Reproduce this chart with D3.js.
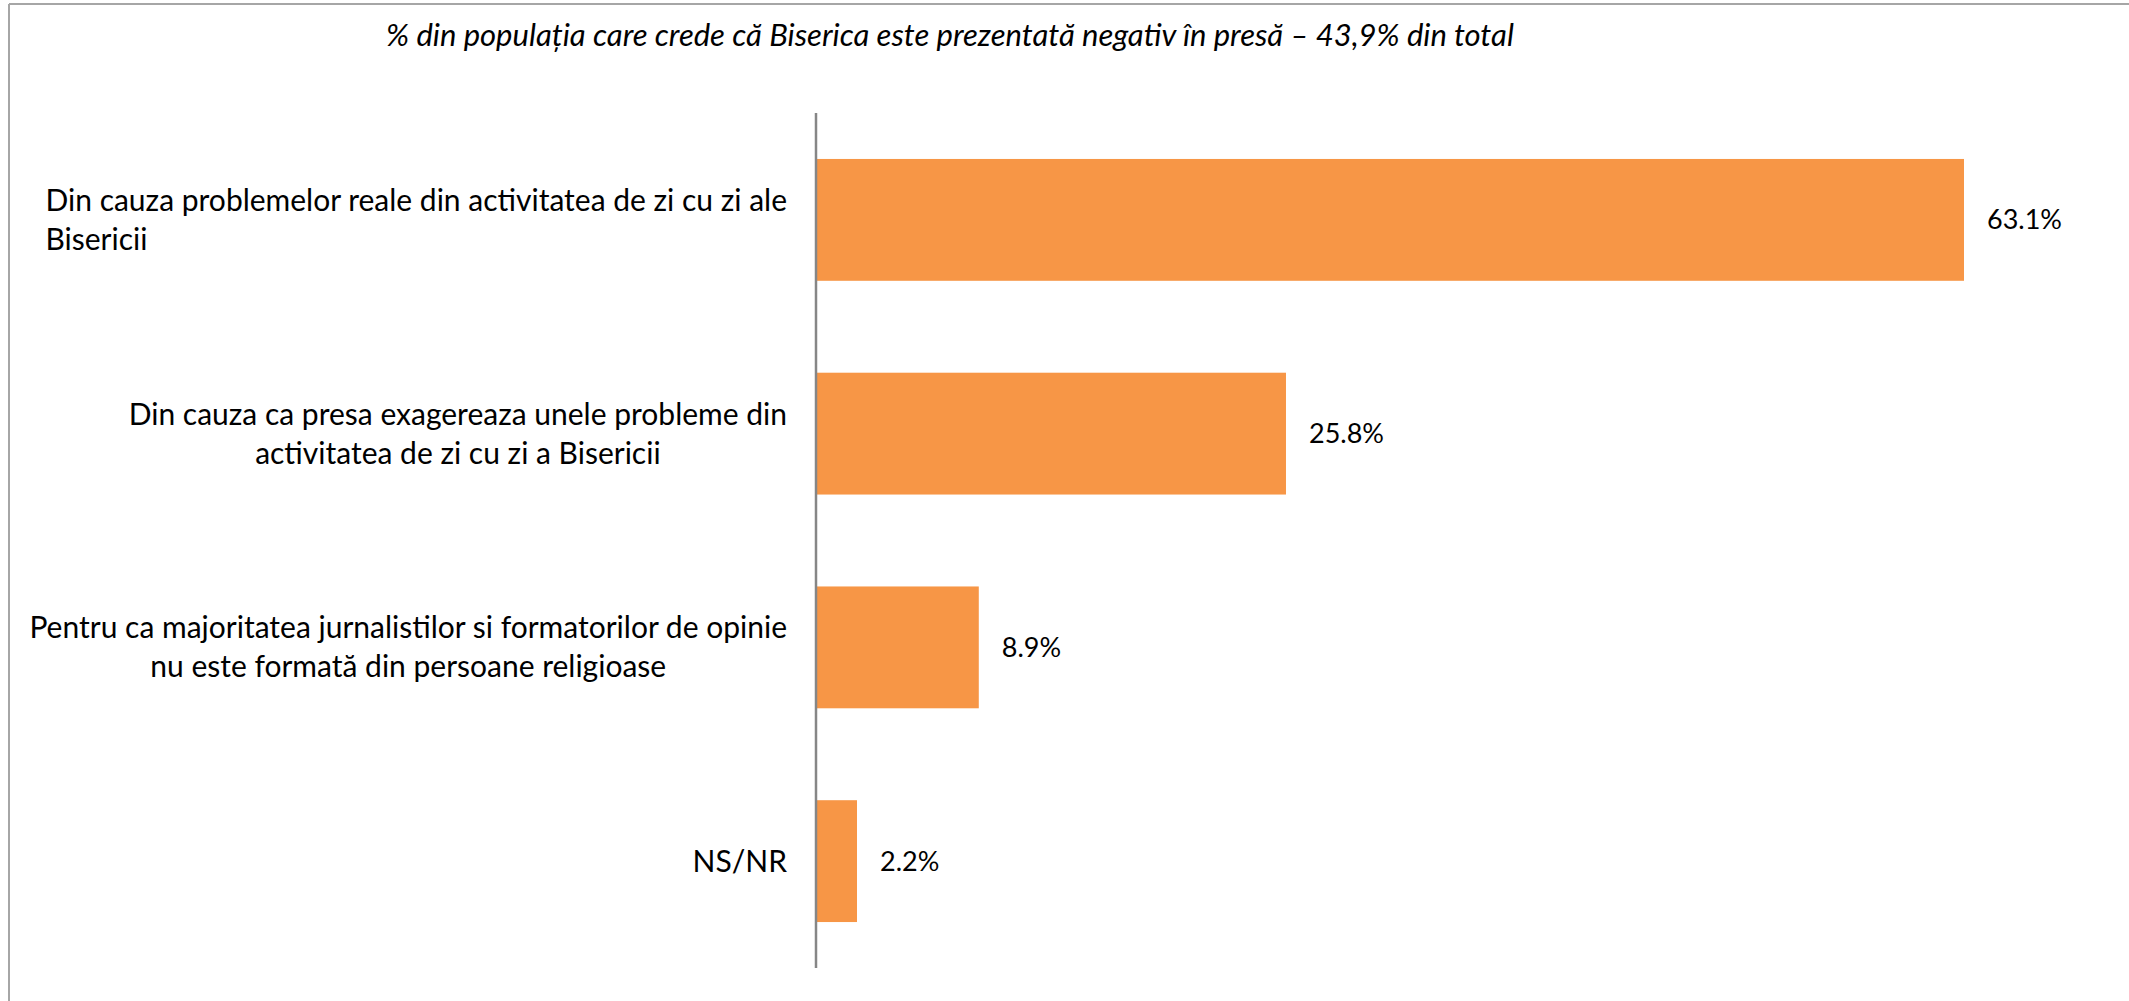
<!DOCTYPE html>
<html>
<head>
<meta charset="utf-8">
<script src="https://cdn.jsdelivr.net/npm/d3@7"></script>
<style>
  body { margin: 0; background: #fff; }
  text { font-family: Lato, "Liberation Sans", sans-serif; fill: #000; }
</style>
</head>
<body>
<div id="chart"></div>
<script>
// data
var categories = [
  ["Din cauza problemelor reale din activitatea de zi cu zi ale", "Bisericii"],
  ["Din cauza ca presa exagereaza unele probleme din", "activitatea de zi cu zi a Bisericii"],
  ["Pentru ca majoritatea jurnalistilor si formatorilor de opinie", "nu este formată din persoane religioase"],
  ["NS/NR"]
];
var values = [63.1, 25.8, 8.9, 2.2];
var title = "% din populația care crede că Biserica este prezentată negativ în presă – 43,9% din total";

var W = 2129, H = 1001;
var margin = {top: 113, left: 816, bottom: 33};

var svg = d3.select("#chart")
  .append("svg")
  .attr("width", W)
  .attr("height", H);

// frame (only top and left edges show)
svg.append("line")
  .attr("x1", 9).attr("x2", W).attr("y1", 4).attr("y2", 4)
  .attr("stroke", "#a6a6a6").attr("stroke-width", 2);
svg.append("line")
  .attr("x1", 9).attr("x2", 9).attr("y1", 4).attr("y2", H)
  .attr("stroke", "#a6a6a6").attr("stroke-width", 2);

svg.append("text")
  .attr("x", 950)
  .attr("y", 46)
  .attr("text-anchor", "middle")
  .style("font-style", "italic")
  .style("font-size", "31px")
  .text(title);

var y = d3.scaleBand()
  .domain(d3.range(values.length))
  .range([margin.top, H - margin.bottom])
  .paddingInner(0.43)
  .paddingOuter(0.215);

// 63.1% ends at about x=1964
var x = d3.scaleLinear().domain([0, 63.1]).range([margin.left + 1, 1964]);

svg.selectAll(".bar")
  .data(values)
  .enter().append("rect")
  .attr("class", "bar")
  .attr("x", x(0))
  .attr("y", function(d, i) { return y(i); })
  .attr("width", function(d) { return x(d) - x(0); })
  .attr("height", y.bandwidth())
  .attr("fill", "#f79646");

svg.selectAll(".val")
  .data(values)
  .enter().append("text")
  .attr("class", "val")
  .attr("x", function(d) { return x(d) + 23; })
  .attr("y", function(d, i) { return y(i) + y.bandwidth() / 2; })
  .attr("dy", "0.35em")
  .style("font-size", "27px")
  .text(function(d) { return d.toFixed(1) + "%"; });

// axis line
svg.append("line")
  .attr("x1", margin.left).attr("x2", margin.left)
  .attr("y1", margin.top).attr("y2", H - margin.bottom)
  .attr("stroke", "#868686").attr("stroke-width", 2.5);

// category labels, right edge at ~787
var labelRight = 787, lineH = 39;
categories.forEach(function(lines, i) {
  var cy = y(i) + y.bandwidth() / 2;
  var g = svg.append("g");
  var texts = lines.map(function(s, k) {
    return g.append("text")
      .attr("y", cy + (k - (lines.length - 1) / 2) * lineH)
      .attr("dy", "0.35em")
      .style("font-size", "30px")
      .text(s);
  });
  var widths = texts.map(function(t) { return t.node().getComputedTextLength(); });
  var maxW = d3.max(widths);
  texts.forEach(function(t, k) {
    if (i === 0) {
      // first label: second line sits flush left
      t.attr("x", labelRight - maxW);
    } else {
      t.attr("x", labelRight - maxW / 2 - widths[k] / 2);
    }
  });
});
</script>
</body>
</html>
